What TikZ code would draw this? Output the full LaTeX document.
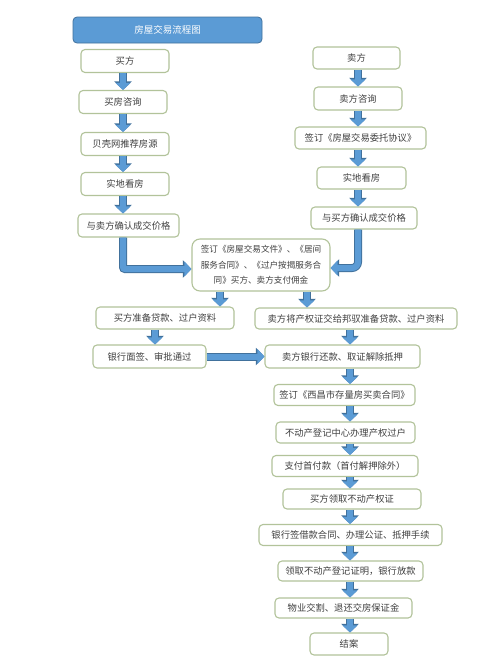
\documentclass[tikz,border=0pt]{standalone}
\usepackage{fontspec}
\setmainfont{Noto Sans CJK SC}
\usetikzlibrary{arrows.meta}
\definecolor{boxline}{HTML}{B2C39A}
\definecolor{txt}{HTML}{404040}
\definecolor{arrfill}{HTML}{5B9BD5}
\definecolor{arrdark}{HTML}{41719C}
\definecolor{titlefill}{HTML}{5B9BD5}
\tikzset{
  flowbox/.style={draw=boxline, line width=1.1pt, fill=white, rounded corners=4pt,
    inner sep=0pt, text=txt, font=\fontsize{9.3}{10}\selectfont, align=center},
  titlebox/.style={draw=arrdark, line width=0.8pt, fill=titlefill, rounded corners=4pt,
    inner sep=0pt, text=white, font=\fontsize{9.5}{10}\selectfont,
    minimum width=189pt, minimum height=26pt},
  arrback/.style={draw=arrdark, line width=8pt, -{Triangle[width=17pt,length=8.5pt]}},
  arrfront/.style={draw=arrfill, line width=6pt, -{Triangle[width=14.5pt,length=7pt]}},
}
\newcommand\blockarr[2][]{\draw[arrback,#1] #2; \draw[arrfront,#1] #2;}
\begin{document}
\begin{tikzpicture}[x=1pt,y=-1pt]
\useasboundingbox[fill=white] (0,0) rectangle (500,659);

\node[titlebox] (title) at (167.5,30) {房屋交易流程图};

% left column
\node[flowbox, minimum width=88pt, minimum height=23pt] (lb1) at (125,61) {买方};
\node[flowbox, minimum width=88pt, minimum height=23pt] (lb2) at (123,102) {买房咨询};
\node[flowbox, minimum width=88pt, minimum height=23pt] (lb3) at (125,144) {贝壳网推荐房源};
\node[flowbox, minimum width=88pt, minimum height=23pt] (lb4) at (125,184) {实地看房};
\node[flowbox, minimum width=101pt, minimum height=23pt] (lb5) at (128.5,225.5) {与卖方确认成交价格};

% right column
\node[flowbox, minimum width=87pt, minimum height=22pt] (rb1) at (356.5,58) {卖方};
\node[flowbox, minimum width=88pt, minimum height=23pt] (rb2) at (358,98.5) {卖方咨询};
\node[flowbox, minimum width=131pt, minimum height=22pt] (rb3) at (360.5,138) {签订《房屋交易委托协议》};
\node[flowbox, minimum width=89pt, minimum height=22pt] (rb4) at (361.5,178) {实地看房};
\node[flowbox, minimum width=106pt, minimum height=22pt] (rb5) at (364,218) {与买方确认成交价格};

% central
\node[flowbox, rounded corners=8pt, minimum width=138pt, minimum height=52pt,
  font=\fontsize{8.6}{15.5}\selectfont] (cen) at (261,265)
  {签订《房屋交易文件》、《居间\\服务合同》、《过户按揭服务合\\同》买方、卖方支付佣金};

\node[flowbox, minimum width=138pt, minimum height=22pt] (m1) at (165,318) {买方准备贷款、过户资料};
\node[flowbox, minimum width=202pt, minimum height=21pt] (m2) at (356,318.5) {卖方将产权证交给邦驭准备贷款、过户资料};
\node[flowbox, minimum width=113pt, minimum height=23pt] (m3) at (149.5,356.5) {银行面签、审批通过};
\node[flowbox, minimum width=155pt, minimum height=23pt] (m4) at (342.5,356.5) {卖方银行还款、取证解除抵押};

\node[flowbox, minimum width=141pt, minimum height=21pt] (c1) at (344.5,395) {签订《西昌市存量房买卖合同》};
\node[flowbox, minimum width=139pt, minimum height=21pt] (c2) at (345.5,432.5) {不动产登记中心办理产权过户};
\node[flowbox, minimum width=146pt, minimum height=21pt] (c3) at (345,466) {支付首付款（首付解押除外）};
\node[flowbox, minimum width=138pt, minimum height=20pt] (c4) at (352,499) {买方领取不动产权证};
\node[flowbox, minimum width=183pt, minimum height=21pt] (c5) at (350.5,535) {银行签借款合同、办理公证、抵押手续};
\node[flowbox, minimum width=145pt, minimum height=20pt] (c6) at (350.5,571) {领取不动产登记证明，银行放款};
\node[flowbox, minimum width=137pt, minimum height=20pt] (c7) at (343.5,608) {物业交割、退还交房保证金};
\node[flowbox, minimum width=78pt, minimum height=22pt] (c8) at (349,644) {结案};

% helper coordinates for arrow columns
\coordinate (lx) at (123,0);
\coordinate (rx) at (358,0);
\coordinate (cx) at (350,0);

% left arrows
\blockarr{(lb1.south -| lx) -- (lb2.north -| lx)}
\blockarr{(lb2.south -| lx) -- (lb3.north -| lx)}
\blockarr{(lb3.south -| lx) -- (lb4.north -| lx)}
\blockarr{(lb4.south -| lx) -- (lb5.north -| lx)}
% right arrows
\blockarr{(rb1.south -| rx) -- (rb2.north -| rx)}
\blockarr{(rb2.south -| rx) -- (rb3.north -| rx)}
\blockarr{(rb3.south -| rx) -- (rb4.north -| rx)}
\blockarr{(rb4.south -| rx) -- (rb5.north -| rx)}

% bent arrows into central box
\blockarr[rounded corners=2pt]{(lb5.south -| lx) |- ([yshift=-4pt]cen.west)}
\blockarr[rounded corners=6pt]{(rb5.south -| rx) |- ([yshift=-3pt]cen.east)}

% from central box
\blockarr{([xshift=-41pt]cen.south) -- ([xshift=-41pt]cen.south |- m1.north)}
\blockarr{([xshift=46pt]cen.south) -- ([xshift=46pt]cen.south |- m2.north)}

\blockarr{([xshift=-10pt]m1.south) -- ([xshift=-10pt]m1.south |- m3.north)}
\blockarr{(m2.south -| cx) -- (m4.north -| cx)}
\blockarr{(m3.east) -- (m4.west)}

% chain
\blockarr{(m4.south -| cx) -- (c1.north -| cx)}
\blockarr{(c1.south -| cx) -- (c2.north -| cx)}
\blockarr{(c2.south -| cx) -- (c3.north -| cx)}
\blockarr{(c3.south -| cx) -- (c4.north -| cx)}
\blockarr{(c4.south -| cx) -- (c5.north -| cx)}
\blockarr{(c5.south -| cx) -- (c6.north -| cx)}
\blockarr{(c6.south -| cx) -- (c7.north -| cx)}
\blockarr{(c7.south -| cx) -- (c8.north -| cx)}
\end{tikzpicture}
\end{document}
